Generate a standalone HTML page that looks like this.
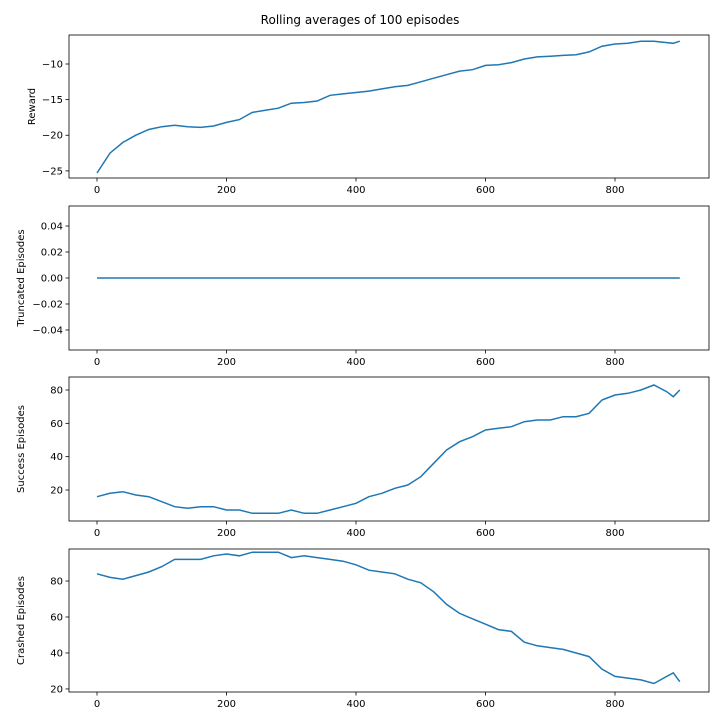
<!DOCTYPE html>
<html><head><meta charset="utf-8"><style>
body{margin:0;background:#fff}
svg{font-family:"DejaVu Sans","Liberation Sans",sans-serif}
</style></head><body>
<svg id="c" width="720" height="720" xmlns="http://www.w3.org/2000/svg">
<rect width="720" height="720" fill="#fff"/>
<text x="360" y="24" font-size="12" text-anchor="middle">Rolling averages of 100 episodes</text>
</svg>
<script>
const xs = [0,20,40,60,80,100,120,140,160,180,200,220,240,260,280,300,320,340,360,380,400,420,440,460,480,500,520,540,560,580,600,620,640,660,680,700,720,740,760,780,800,820,840,860,880,890,900];
const reward = [-25.3,-22.5,-21,-20,-19.2,-18.8,-18.6,-18.8,-18.9,-18.7,-18.2,-17.8,-16.8,-16.5,-16.2,-15.5,-15.4,-15.2,-14.4,-14.2,-14.0,-13.8,-13.5,-13.2,-13.0,-12.5,-12.0,-11.5,-11.0,-10.8,-10.2,-10.1,-9.8,-9.3,-9.0,-8.9,-8.8,-8.7,-8.3,-7.5,-7.2,-7.1,-6.8,-6.8,-7.0,-7.1,-6.8];
const truncated = xs.map(()=>0);
const success = [16,18,19,17,16,13,10,9,10,10,8,8,6,6,6,8,6,6,8,10,12,16,18,21,23,28,36,44,49,52,56,57,58,61,62,62,64,64,66,74,77,78,80,83,79,76,80];
const crashed = [84,82,81,83,85,88,92,92,92,94,95,94,96,96,96,93,94,93,92,91,89,86,85,84,81,79,74,67,62,59,56,53,52,46,44,43,42,40,38,31,27,26,25,23,27,29,24];
const xTicks = [0,200,400,600,800];
const panels = [
 {name:'reward',label:'Reward',data:reward,top:35,bot:178,ymin:-26.0,ymax:-5.93,ticks:[-25,-20,-15,-10],fmt:v=>'\u2212'+Math.abs(v)},
 {name:'truncated',label:'Truncated Episodes',data:truncated,top:206,bot:350,ymin:-0.0554,ymax:0.0554,ticks:[-0.04,-0.02,0,0.02,0.04],fmt:v=>(v<0?'\u2212':'')+Math.abs(v).toFixed(2)},
 {name:'success',label:'Success Episodes',data:success,top:377,bot:521,ymin:1.4,ymax:87.8,ticks:[20,40,60,80],fmt:v=>''+v},
 {name:'crashed',label:'Crashed Episodes',data:crashed,top:549,bot:692,ymin:18.3,ymax:97.8,ticks:[20,40,60,80],fmt:v=>''+v}
];
const svg=document.getElementById('c');
const NS='http://www.w3.org/2000/svg';
const L=69,R=709;
const sx=v=>97+v*0.6475;
function mk(t,a){const e=document.createElementNS(NS,t);for(const k in a)e.setAttribute(k,a[k]);svg.appendChild(e);return e;}
panels.forEach(p=>{
 const sy=v=>p.bot-(v-p.ymin)/(p.ymax-p.ymin)*(p.bot-p.top);
 const pts=xs.map((x,i)=>sx(x).toFixed(1)+','+sy(p.data[i]).toFixed(1)).join(' ');
 const line=mk('polyline',{points:pts,fill:'none',stroke:'#1f77b4','stroke-width':1.5});
 
 
 const fr=mk('rect',{x:L,y:p.top,width:R-L,height:p.bot-p.top,fill:'none',stroke:'#000','stroke-width':0.8});
 
 
 xTicks.forEach(t=>{
  mk('line',{x1:sx(t),x2:sx(t),y1:p.bot,y2:p.bot+3.5,stroke:'#000','stroke-width':0.8});
  const tx=mk('text',{x:sx(t),y:p.bot+15,'font-size':10,'text-anchor':'middle'});tx.textContent=t;
  
  
 });
 p.ticks.forEach(t=>{
  const y=sy(t);
  mk('line',{x1:L-3.5,x2:L,y1:y,y2:y,stroke:'#000','stroke-width':0.8});
  const tx=mk('text',{x:L-6,y:y+3.5,'font-size':10,'text-anchor':'end'});tx.textContent=p.fmt(t);
  
  
 });
 const cy=(p.top+p.bot)/2;
 const yl=mk('text',{x:0,y:0,'font-size':10,'text-anchor':'middle',transform:`translate(${p.name==='reward'?35:24},${cy}) rotate(-90)`});
 yl.textContent=p.label;
 
 
});
</script>
</body></html>
